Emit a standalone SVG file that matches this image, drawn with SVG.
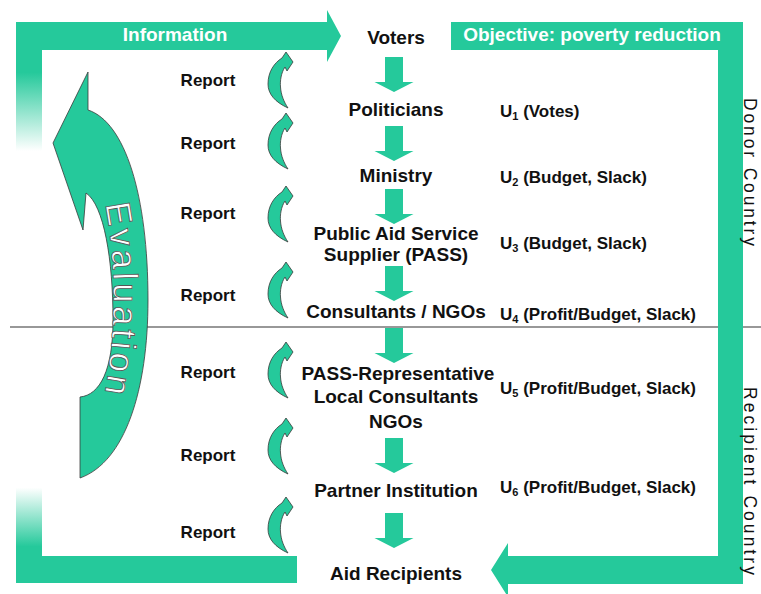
<svg xmlns="http://www.w3.org/2000/svg" width="761" height="594" viewBox="0 0 761 594">
<defs>
<style>
.t{font-family:"Liberation Sans",Arial,sans-serif;font-weight:bold;fill:#111;}
.c{font-size:19px;text-anchor:middle;}
.r{font-size:17px;text-anchor:middle;}
.u{font-size:17px;}
.sub{font-size:11px;}
.w{font-family:"Liberation Sans",Arial,sans-serif;font-weight:bold;font-size:19px;fill:#fff;text-anchor:middle;}
.g{fill:#25C99B;}
.ca{fill:#25C99B;stroke:#3a3a3a;stroke-width:0.8;}
.country{font-family:"Liberation Sans",Arial,sans-serif;font-size:17.5px;fill:#111;text-anchor:middle;}
.ev{font-family:"Liberation Sans",Arial,sans-serif;font-size:35px;fill:#fff;stroke:#555;stroke-width:0.8;}
</style>
<linearGradient id="lg" x1="0" y1="22" x2="0" y2="583" gradientUnits="userSpaceOnUse">
<stop offset="0" stop-color="#25C99B"/>
<stop offset="0.09" stop-color="#25C99B"/>
<stop offset="0.23" stop-color="#ffffff"/>
<stop offset="0.83" stop-color="#ffffff"/>
<stop offset="0.935" stop-color="#25C99B"/>
<stop offset="1" stop-color="#25C99B"/>
</linearGradient>
<path id="down" d="M -9 0 H 9 V 25 H 19.5 L 0 35 L -19.5 25 H -9 Z"/>
<path id="curl" d="M 14 6 L 18 0 L 25 10 L 19 19 L 17 15 C 13 21 12 29 12.5 35 C 13 43 16 50 20 56 C 7 50 0 42 0 32 C 0 20 6 11 14 6 Z"/>
<path id="evalpath" d="M 105 204 Q 123 300 103 402"/>
</defs>

<rect id="fade-bar" x="16" y="22" width="26" height="561" fill="url(#lg)"/>
<line id="divider" x1="10" y1="327" x2="761" y2="327" stroke="#333" stroke-width="1.2"/>

<g id="information-loop">
<path class="g" d="M16 22 H327 V10 L341 36 L327 62 V50 H16 Z"/>
<rect class="g" x="16" y="556" width="281" height="27"/>
<text class="w" x="175" y="41">Information</text>
</g>

<g id="objective-loop">
<path class="g" d="M451 22 H743 V584 H508 V597 L491 570 L508 543 V556 H718 V50 H451 Z"/>
<text class="w" x="592" y="41">Objective: poverty reduction</text>
</g>

<g id="evaluation">
<path class="ca" d="M 88 72 L 88 110 C 125 122 148 195 148 300 C 148 390 125 462 80 478 L 80 397 C 100 395 113 370 113 320 C 113 260 104 205 86 193 L 83 230 L 53 143 Z"/>
<text class="ev"><textPath href="#evalpath" textLength="190" lengthAdjust="spacing">Evaluation</textPath></text>
</g>

<g id="connectors">
<use href="#down" class="g" x="394" y="57"/>
<use href="#down" class="g" x="394" y="126"/>
<use href="#down" class="g" x="394" y="189"/>
<use href="#down" class="g" x="394" y="266"/>
<use href="#down" class="g" x="394" y="328"/>
<use href="#down" class="g" x="394" y="438"/>
<use href="#down" class="g" x="394" y="513"/>
</g>

<g id="reports">
<use href="#curl" class="ca" x="268" y="52"/>
<use href="#curl" class="ca" x="268" y="113"/>
<use href="#curl" class="ca" x="268" y="186"/>
<use href="#curl" class="ca" x="268" y="262"/>
<use href="#curl" class="ca" x="268" y="342"/>
<use href="#curl" class="ca" x="268" y="418"/>
<use href="#curl" class="ca" x="268" y="497"/>
<text class="t r" x="208" y="86">Report</text>
<text class="t r" x="208" y="149">Report</text>
<text class="t r" x="208" y="219">Report</text>
<text class="t r" x="208" y="301">Report</text>
<text class="t r" x="208" y="378">Report</text>
<text class="t r" x="208" y="461">Report</text>
<text class="t r" x="208" y="538">Report</text>
</g>

<g id="voters"><text class="t c" x="396" y="44">Voters</text></g>
<g id="politicians">
<text class="t c" x="396" y="116">Politicians</text>
<text class="t u" x="500" y="117">U<tspan class="sub" dy="3">1</tspan><tspan dy="-3"> (Votes)</tspan></text>
</g>
<g id="ministry">
<text class="t c" x="396" y="182">Ministry</text>
<text class="t u" x="500" y="183">U<tspan class="sub" dy="3">2</tspan><tspan dy="-3"> (Budget, Slack)</tspan></text>
</g>
<g id="pass">
<text class="t c" x="396" y="240">Public Aid Service</text>
<text class="t c" x="396" y="261">Supplier (PASS)</text>
<text class="t u" x="500" y="249">U<tspan class="sub" dy="3">3</tspan><tspan dy="-3"> (Budget, Slack)</tspan></text>
</g>
<g id="consultants">
<text class="t c" x="396" y="318">Consultants / NGOs</text>
<text class="t u" x="500" y="320">U<tspan class="sub" dy="3">4</tspan><tspan dy="-3"> (Profit/Budget, Slack)</tspan></text>
</g>
<g id="pass-representative">
<text class="t c" x="398" y="380">PASS-Representative</text>
<text class="t c" x="396" y="403">Local Consultants</text>
<text class="t c" x="396" y="428">NGOs</text>
<text class="t u" x="500" y="394">U<tspan class="sub" dy="3">5</tspan><tspan dy="-3"> (Profit/Budget, Slack)</tspan></text>
</g>
<g id="partner-institution">
<text class="t c" x="396" y="497">Partner Institution</text>
<text class="t u" x="500" y="493">U<tspan class="sub" dy="3">6</tspan><tspan dy="-3"> (Profit/Budget, Slack)</tspan></text>
</g>
<g id="aid-recipients"><text class="t c" x="396" y="580">Aid Recipients</text></g>

<g id="countries">
<text class="country" transform="translate(744,172) rotate(90)" textLength="148" lengthAdjust="spacing">Donor Country</text>
<text class="country" transform="translate(744,481) rotate(90)" textLength="188" lengthAdjust="spacing">Recipient Country</text>
</g>
</svg>
